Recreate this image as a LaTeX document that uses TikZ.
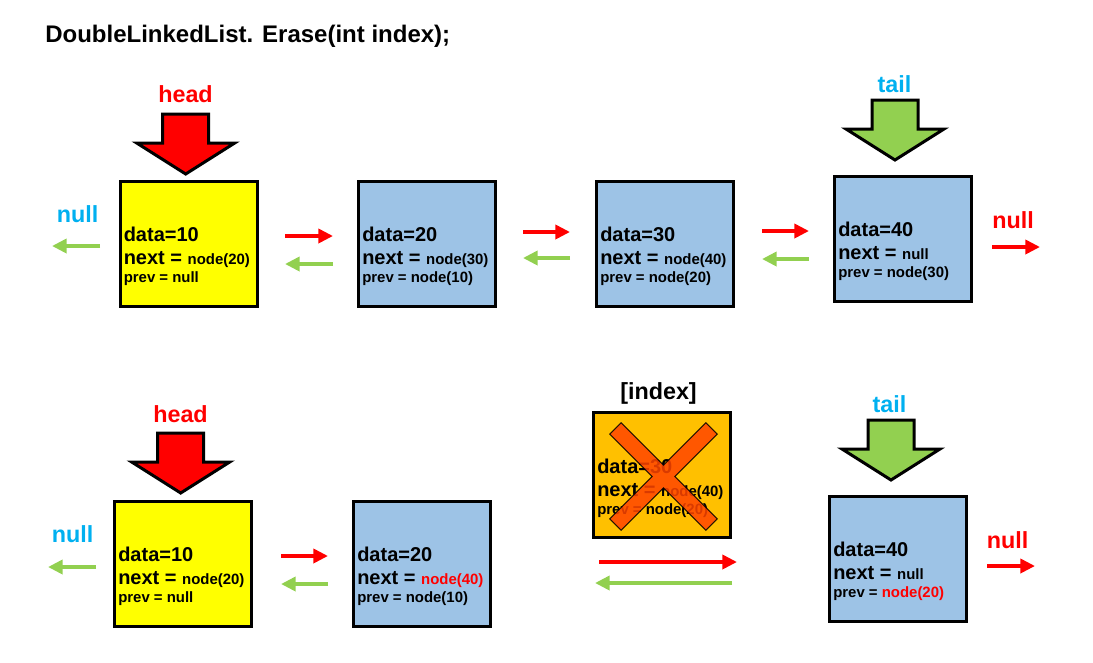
\documentclass[tikz,border=0pt]{standalone}
\usepackage{fontspec}
\setmainfont{Liberation Sans}
\usetikzlibrary{arrows.meta}
\definecolor{cyanT}{RGB}{0,176,240}
\definecolor{grn}{RGB}{146,208,80}
\definecolor{blu}{RGB}{157,195,230}
\definecolor{yel}{RGB}{255,255,0}
\definecolor{org}{RGB}{255,192,0}
\definecolor{xred}{RGB}{255,69,0}
\newcommand\fsz[1]{\fontsize{#1}{#1}\selectfont}
\newcommand\smallfs{\fsz{11.2pt}}
\newcommand\cellText[4]{%
  \node[dl] (#1d) at ([shift={(-65,-2)}]#1.center) {#2};
  \node[dl] (#1n) at ([shift={(-65,21)}]#1.center) {next = {\smallfs #3}};
  \node[pl] (#1p) at ([shift={(-65,39)}]#1.center) {#4};}
\newcommand\blockArrow[2]{%
  \draw[blockarr, fill=#2, shift={(#1)}] (-23,-60) -- (23,-60) -- (23,-31) -- (49,-31)
    -- (0,0) -- (-49,-31) -- (-23,-31) -- cycle;}
\begin{document}
\begin{tikzpicture}[x=0.75pt,y=-0.75pt,
  listbox/.style={draw=black, line width=2.25pt, minimum width=102.75pt, minimum height=93.75pt, inner sep=0pt},
  dl/.style={anchor=base west, inner sep=0pt, font=\bfseries\fsz{15pt}},
  pl/.style={anchor=base west, inner sep=0pt, font=\bfseries\smallfs},
  lbl/.style={anchor=base, inner sep=0pt, font=\bfseries\fsz{17.5pt}},
  blockarr/.style={draw=black, line width=2.25pt, line join=miter},
  ptr/.style={line width=3.5pt, -{Triangle[length=11pt,width=10.5pt]}},
  nx/.style={ptr, draw=red},
  pv/.style={ptr, draw=grn},
  xmark/.style={fill=xred, draw=black, line width=0.8pt, opacity=0.85}
]
\useasboundingbox (0,0) rectangle (1093,662);

\node[anchor=base west, inner sep=0pt, font=\bfseries\fsz{18pt}] (title) at (45,42) {DoubleLinkedList. Erase(int index);};

% ---------- top row ----------
\node[listbox, fill=yel] (a1) at (188.5,243.5) {};
\node[listbox, fill=blu] (a2) at (427,243.5) {};
\node[listbox, fill=blu] (a3) at (665,243.5) {};
\node[listbox, fill=blu] (a4) at (903,238.5) {};
\cellText{a1}{data=10}{node(20)}{prev = null}
\cellText{a2}{data=20}{node(30)}{prev = node(10)}
\cellText{a3}{data=30}{node(40)}{prev = node(20)}
\cellText{a4}{data=40}{null}{prev = node(30)}

\coordinate (headTip) at (185.7,174);
\coordinate (tailTip) at (895,160);
\blockArrow{headTip}{red}
\blockArrow{tailTip}{grn}
\node[lbl, text=red] (headA) at (185.5,102) {head};
\node[lbl, text=cyanT] (tailA) at (894.5,92) {tail};
\node[lbl, text=cyanT] (nullA0) at (77.5,222) {null};
\node[lbl, text=red] (nullA4) at (1013,228) {null};

\coordinate (pa0s) at (100,246); \coordinate (pa0e) at (52,246);
\coordinate (na12s) at (285,236); \coordinate (na12e) at (333,236);
\coordinate (pa12s) at (333,264); \coordinate (pa12e) at (285,264);
\coordinate (na23s) at (523,232); \coordinate (na23e) at (570,232);
\coordinate (pa23s) at (570,258); \coordinate (pa23e) at (523,258);
\coordinate (na34s) at (762,231); \coordinate (na34e) at (809,231);
\coordinate (pa34s) at (809,259); \coordinate (pa34e) at (762,259);
\coordinate (na4s) at (992,247); \coordinate (na4e) at (1040,247);
\draw[pv] (pa0s) -- (pa0e);
\draw[nx] (na12s) -- (na12e);
\draw[pv] (pa12s) -- (pa12e);
\draw[nx] (na23s) -- (na23e);
\draw[pv] (pa23s) -- (pa23e);
\draw[nx] (na34s) -- (na34e);
\draw[pv] (pa34s) -- (pa34e);
\draw[nx] (na4s) -- (na4e);

% ---------- bottom row ----------
\node[listbox, fill=yel] (b1) at (183,563.5) {};
\node[listbox, fill=blu] (b2) at (422,563.5) {};
\node[listbox, fill=org] (b3) at (662,475) {};
\node[listbox, fill=blu] (b4) at (898,558.5) {};
\cellText{b1}{data=10}{node(20)}{prev = null}
\cellText{b2}{data=20}{\textcolor{red}{node(40)}}{prev = node(10)}
\cellText{b3}{data=30}{node(40)}{prev = node(20)}
\cellText{b4}{data=40}{null}{prev = \textcolor{red}{node(20)}}

% cross over the erased node
\draw[xmark, shift={(663.5,476.5)}, rotate=45]
  (-8,-68) -- (8,-68) -- (8,-8) -- (68,-8) -- (68,8) -- (8,8) -- (8,68)
  -- (-8,68) -- (-8,8) -- (-68,8) -- (-68,-8) -- (-8,-8) -- cycle;
\node[lbl] (idx) at (658.5,399) {[index]};

\coordinate (headTipB) at (180.7,493);
\coordinate (tailTipB) at (891,480);
\blockArrow{headTipB}{red}
\blockArrow{tailTipB}{grn}
\node[lbl, text=red] (headB) at (180.5,422) {head};
\node[lbl, text=cyanT] (tailB) at (889.5,412) {tail};
\node[lbl, text=cyanT] (nullB0) at (72.5,542) {null};
\node[lbl, text=red] (nullB4) at (1007.5,548) {null};

\coordinate (pb0s) at (96,567); \coordinate (pb0e) at (48,567);
\coordinate (nb12s) at (281,556); \coordinate (nb12e) at (328,556);
\coordinate (pb12s) at (328,584); \coordinate (pb12e) at (281,584);
\coordinate (nb24s) at (599,562); \coordinate (nb24e) at (737,562);
\coordinate (pb24s) at (732,583); \coordinate (pb24e) at (595,583);
\coordinate (nb4s) at (987,566); \coordinate (nb4e) at (1035,566);
\draw[pv] (pb0s) -- (pb0e);
\draw[nx] (nb12s) -- (nb12e);
\draw[pv] (pb12s) -- (pb12e);
\draw[nx] (nb24s) -- (nb24e);
\draw[pv] (pb24s) -- (pb24e);
\draw[nx] (nb4s) -- (nb4e);
\end{tikzpicture}
\end{document}
